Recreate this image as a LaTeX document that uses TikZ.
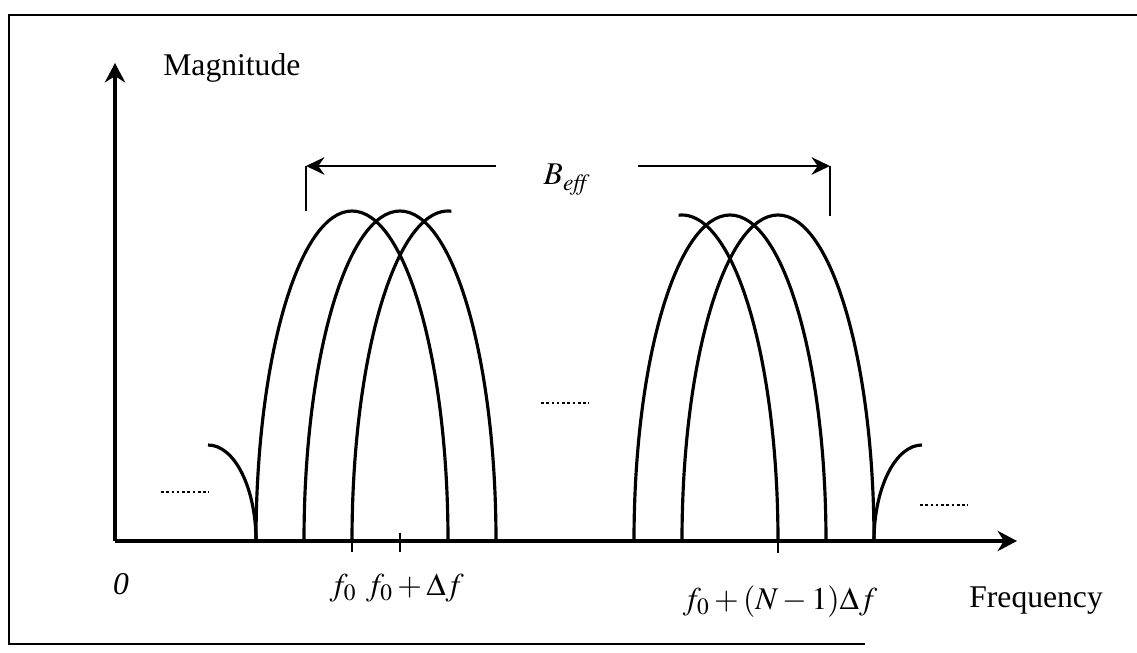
\documentclass[tikz,border=0pt]{standalone}
\usepackage{mathptmx}
\usepackage{fontspec}
\setmainfont{Liberation Serif}
\usepackage{tikz}
\usetikzlibrary{arrows.meta,positioning,calc}
\tikzset{
  frame/.style={line width=1pt},
  axis/.style={line width=1.8pt,-{Stealth[length=11pt,width=11.5pt,inset=3.5pt]}},
  lobe/.style={line width=1.8pt},
  flow/.style={line width=1.2pt,-{Stealth[length=10.5pt,width=10pt,inset=3.5pt]}},
  bracket/.style={line width=1.4pt},
  tickmark/.style={line width=1.5pt},
  dots/.style={line width=0.6pt,dash pattern=on 1.5pt off 1.5pt},
  lbl/.style={font=\fontsize{18}{21}\selectfont,inner sep=0pt}
}
\begin{document}
\begin{tikzpicture}[x=0.02cm,y=0.02cm]
  \useasboundingbox (0,0) rectangle (1137,653);
  % Frame
  \draw[frame] (1137,638) -- (9,638) -- (9,9) -- (865,9);
  % Axes
  \coordinate (O) at (115,112);
  \coordinate (ytip) at (115,590);
  \coordinate (xtip) at (1017,112);
  \draw[axis] (O) -- (ytip);
  \draw[axis] (O) -- (xtip);
  \node[lbl,anchor=base west] (mag) at (163,577) {Magnitude};
  \node[lbl,anchor=base west] (freq) at (969,45) {Frequency};
  \node[lbl,anchor=base] (zero) at (121,58) {\textit{0}};
  % Left group of lobes
  \draw[lobe] (208,208) arc[start angle=90,end angle=0,x radius=48,y radius=96];
  \foreach \c in {352,400} {
    \draw[lobe] (\c-96,112) arc[start angle=180,end angle=0,x radius=96,y radius=330];
  }
  \draw[lobe] (352,112) arc[start angle=180,end angle=88,x radius=96,y radius=330];
  % Right group of lobes
  \draw[lobe] (778,112) arc[start angle=0,end angle=92,x radius=96,y radius=326];
  \foreach \c in {730,778} {
    \draw[lobe] (\c-96,112) arc[start angle=180,end angle=0,x radius=96,y radius=326];
  }
  \draw[lobe] (874,112) arc[start angle=180,end angle=90,x radius=48,y radius=96];
  % Ticks
  \draw[tickmark] (352,112) -- (352,101);
  \draw[tickmark] (400,120) -- (400,101);
  \draw[tickmark] (778,112) -- (778,100);
  \node[lbl,anchor=base] (f0) at (343,57) {$f_0$};
  \node[lbl,anchor=base] (f1) at (415,57) {$f_0+\Delta f$};
  \node[lbl,anchor=base] (fN) at (780,43) {$f_0+(N-1)\Delta f$};
  % Dotted continuation marks
  \draw[dots] (161,161) -- (209,161);
  \draw[dots] (541,250) -- (589,250);
  \draw[dots] (920,148) -- (968,148);
  % Effective bandwidth
  \coordinate (bl) at (306,487);
  \coordinate (blb) at (306,442);
  \coordinate (br) at (830,487);
  \coordinate (brb) at (830,437);
  \node[lbl,anchor=base,inner xsep=27pt] (beff) at (567,468) {$B_{\mathit{eff}}$};
  \draw[flow] (beff.west |- bl) -- (bl);
  \draw[flow] (beff.east |- br) -- (br);
  \draw[bracket] (bl) -- (blb);
  \draw[bracket] (br) -- (brb);
\end{tikzpicture}
\end{document}
